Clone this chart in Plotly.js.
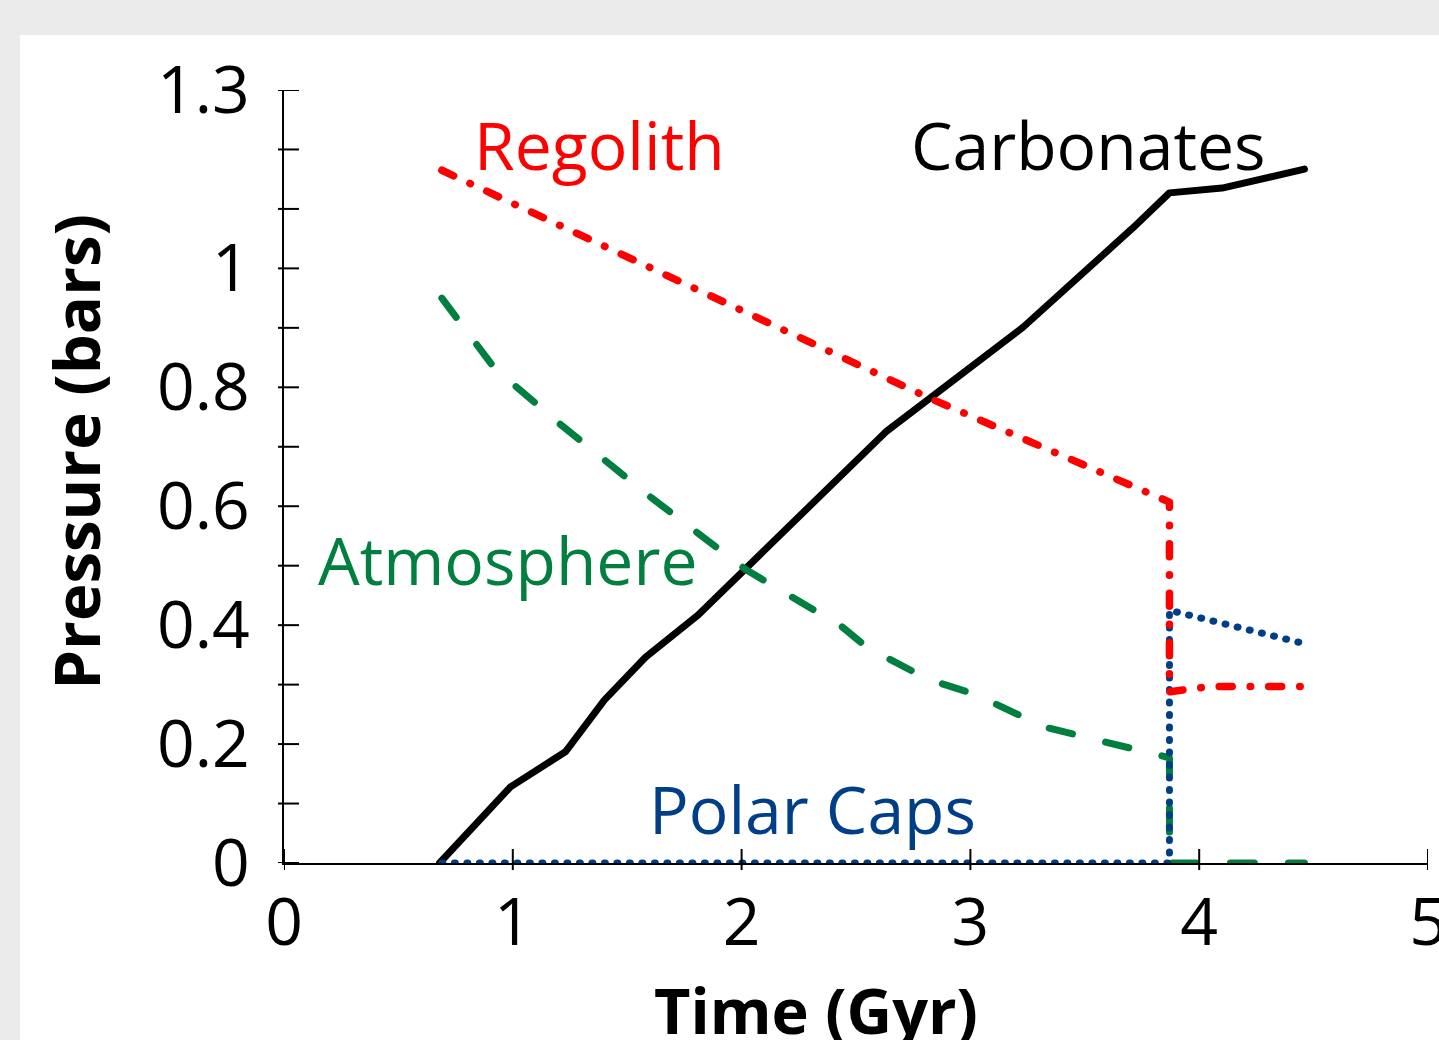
<!DOCTYPE html>
<html>
<head>
<meta charset="utf-8">
<script src="https://cdn.plot.ly/plotly-3.0.1.min.js"></script>
<style>
  html, body { margin: 0; padding: 0; background: #ebebeb; width: 1439px; height: 1040px; overflow: hidden; }
  #chart { position: absolute; left: 20px; top: 35px; width: 1419px; height: 1005px; background: #ffffff; }
  .js-line { stroke-linecap: round; stroke-linejoin: round; }
</style>
</head>
<body>
<div id="chart"></div>
<script>
// ---- data ----
const carbX = [0.68, 0.99, 1.23, 1.40, 1.58, 1.81, 2.63, 3.23, 3.71, 3.87, 4.10, 4.46];
const carbY = [0, 0.128, 0.187, 0.274, 0.346, 0.417, 0.725, 0.901, 1.068, 1.127, 1.135, 1.167];

const regX = [0.69, 2.00, 2.82, 3.87, 3.87, 4.05, 4.48];
const regY = [1.165, 0.930, 0.782, 0.607, 0.288, 0.297, 0.297];

const atmX = [0.69, 0.92, 1.21, 1.60, 2.02, 2.44, 2.55, 2.82, 3.02, 3.32, 3.87, 3.87, 4.46];
const atmY = [0.950, 0.832, 0.737, 0.616, 0.493, 0.397, 0.362, 0.308, 0.284, 0.229, 0.177, 0, 0];

const polX = [0.69, 3.87, 3.87, 4.48];
const polY = [0, 0, 0.425, 0.367];

const xTicks = [0, 1, 2, 3, 4, 5];
const xTickText = ['0', '1', '2', '3', '4', '5'];
const yTicks = [0, 0.1, 0.2, 0.3, 0.4, 0.5, 0.6, 0.7, 0.8, 0.9, 1.0, 1.1, 1.2, 1.3];
const yTickText = ['0', '', '0.2', '', '0.4', '', '0.6', '', '0.8', '', '1', '', '', '1.3'];

const seriesNames = ['Carbonates', 'Atmosphere', 'Polar Caps', 'Regolith'];
const labelX = [3.514, 0.975, 2.308, 1.381];
const labelY = [1.209, 0.511, 0.0925, 1.209];
const colors = ['#000000', '#007f3f', '#003f87', '#ff0000'];

const xTitle = 'Time (Gyr)';
const yTitle = 'Pressure (bars)';

const FONT = '"Open Sans", "Noto Sans", sans-serif';

const traces = [
  { x: carbX, y: carbY, name: seriesNames[0], mode: 'lines', cliponaxis: false,
    line: { color: colors[0], width: 7 } },
  { x: atmX, y: atmY, name: seriesNames[1], mode: 'lines', cliponaxis: false,
    line: { color: colors[1], width: 7, dash: '24px,34px' } },
  { x: polX, y: polY, name: seriesNames[2], mode: 'lines', cliponaxis: false,
    line: { color: colors[2], width: 7, dash: '1px,11.5px' } },
  { x: regX, y: regY, name: seriesNames[3], mode: 'lines', cliponaxis: false,
    line: { color: colors[3], width: 7.5, dash: '13px,18px,0.5px,18px' } }
];

const annotations = seriesNames.map((n, i) => ({
  x: labelX[i], y: labelY[i], xref: 'x', yref: 'y', text: n, showarrow: false,
  xanchor: 'center', yanchor: 'middle',
  font: { family: FONT, size: 66, color: colors[i] }
}));
annotations.push({
  x: 0.465, y: -0.19, xref: 'paper', yref: 'paper', text: xTitle, showarrow: false,
  xanchor: 'center', yanchor: 'middle',
  font: { family: FONT, size: 63, weight: 700, color: '#000' }
});
annotations.push({
  x: -0.1818, y: 0.532, xref: 'paper', yref: 'paper', text: yTitle, showarrow: false,
  textangle: -90, xanchor: 'center', yanchor: 'middle',
  font: { family: FONT, size: 63.5, weight: 700, color: '#000' }
});

// crossing tick marks (short outside, longer inside), placed through the axes
const tickLine = { color: '#000000', width: 2 };
const tickShapes = [].concat(
  yTicks.map(v => ({ type: 'line', layer: 'above', xref: 'paper', xsizemode: 'pixel', xanchor: 0,
                     x0: -6, x1: 15, yref: 'y', y0: v, y1: v, line: tickLine })),
  xTicks.map(v => ({ type: 'line', layer: 'above', yref: 'paper', ysizemode: 'pixel', yanchor: 0,
                     y0: -7, y1: 14, xref: 'x', x0: v, x1: v, line: tickLine }))
);

const tickFont = { family: FONT, size: 66, color: '#000000' };

const layout = {
  width: 1419, height: 1005,
  paper_bgcolor: '#ffffff', plot_bgcolor: '#ffffff',
  margin: { l: 264, r: 11, t: 55, b: 177 },
  showlegend: false,
  xaxis: {
    range: [0, 5], tickmode: 'array', tickvals: xTicks, ticktext: xTickText,
    ticks: '', showline: true, linewidth: 2, linecolor: '#000', showgrid: false, zeroline: false,
    tickfont: tickFont, ticklabelstandoff: 1, ticklabeloverflow: 'allow', layer: 'below traces'
  },
  yaxis: {
    range: [0, 1.3], tickmode: 'array', tickvals: yTicks, ticktext: yTickText,
    ticks: '', showline: true, linewidth: 2, linecolor: '#000', showgrid: false, zeroline: false,
    tickfont: tickFont, ticklabelstandoff: 19, layer: 'below traces'
  },
  shapes: tickShapes,
  annotations: annotations
};

Plotly.newPlot('chart', traces, layout, { displayModeBar: false, responsive: false });
</script>
</body>
</html>
